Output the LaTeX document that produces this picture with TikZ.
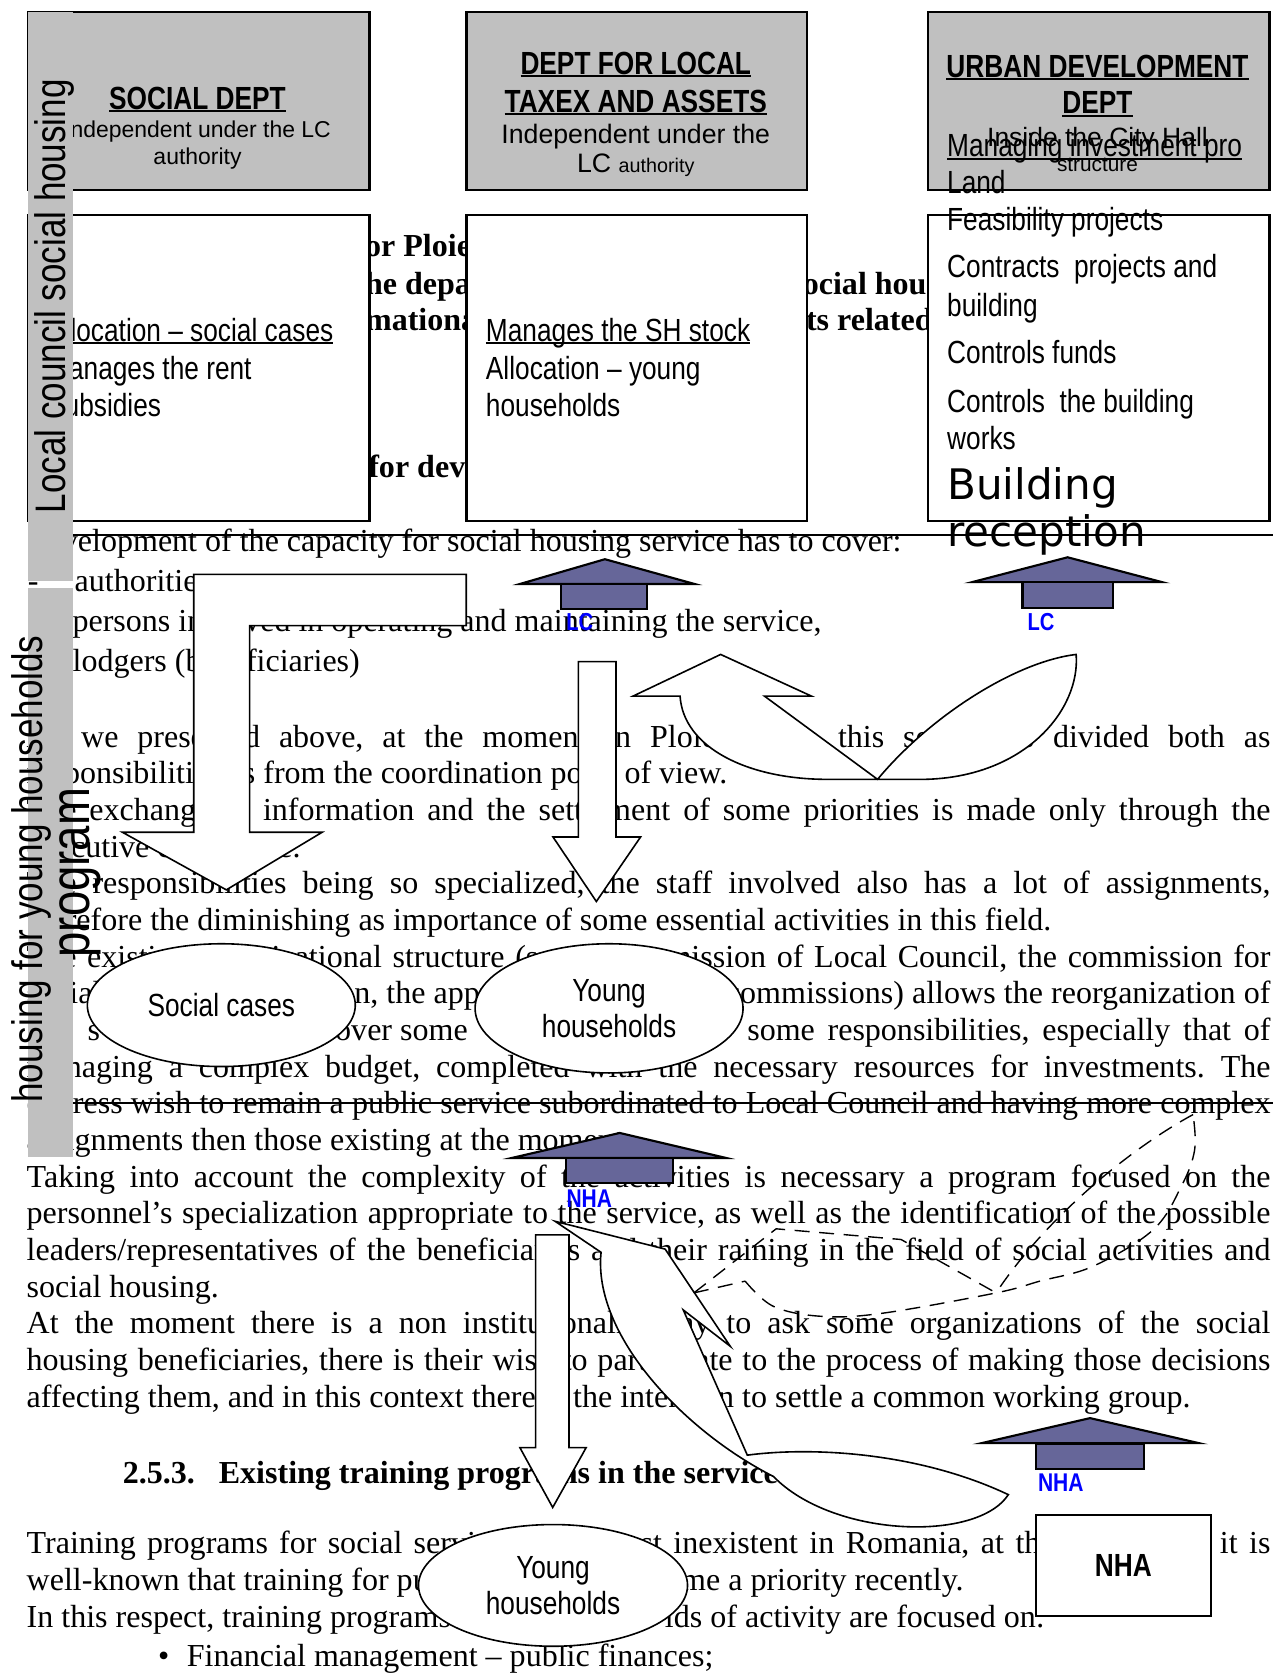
\documentclass[tikz,border=0pt]{standalone}
\usepackage{fontspec}
\setmainfont{Liberation Serif}
\newfontfamily\nar[FakeStretch=0.82]{Liberation Sans}
\newfontfamily\ars{Liberation Sans}
\newfontfamily\dvs{DejaVu Sans}
\usetikzlibrary{shapes.geometric}
\frenchspacing
\newcommand\fs[1]{\fontsize{#1}{#1}\selectfont}
\newcommand\wul[1]{\setbox0=\hbox{#1}\rlap{\rule[-2.6pt]{\wd0}{1.8pt}}\box0}
\definecolor{silver}{RGB}{192,192,192}
\definecolor{hatc}{RGB}{102,102,153}
\begin{document}
\begin{tikzpicture}[x=1pt,y=-1pt,
  txt/.style={anchor=base west,inner sep=0pt,outer sep=0pt,font=\fontsize{30}{34}\selectfont},
  txtb/.style={anchor=base west,inner sep=0pt,outer sep=0pt,font=\fontsize{30}{34}\selectfont\bfseries},
  gbox/.style={draw,line width=2.2pt,fill=silver,inner sep=0pt,anchor=north west},
  wbox/.style={draw,line width=2.2pt,fill=white,inner sep=0pt,anchor=north west},
  ttl/.style={anchor=base,inner sep=0pt,font=\nar\bfseries\fs{30}},
  lft/.style={anchor=base west,inner sep=0pt,font=\nar\fs{30}},
  rot/.style={rotate=90,anchor=base west,inner sep=0pt},
  arw/.style={draw,fill=white,line width=1.5pt,line join=miter},
  hat/.style={draw,fill=hatc,line width=2pt},
  lbl/.style={inner sep=0pt,text=blue,font=\nar\bfseries\fs{23}},
  ell/.style={ellipse,draw,fill=white,line width=1.5pt,inner sep=0pt,align=center,font=\nar\fontsize{30}{34}\selectfont},
  dsh/.style={dash pattern=on 14pt off 9pt,line width=1.3pt}]
\fill[white] (0,0) rectangle (1194,1568);
\useasboundingbox (0,0) rectangle (1194,1568);

% ---------- body text ----------
\node[txtb] (h1) at (342,240.6) {or Ploie};
\node[txtb] (h2) at (342,276) {he depa};
\node[txtb] (h3) at (342,310) {mationa};
\node[txtb] (h4) at (345,447.3) {for dev};
\node[txtb] (h5) at (752,276) {ocial hous};
\node[txtb] (h6) at (755,310) {ts related};

\node[txt] (t01) at (58,516.6) {velopment of the capacity for social housing service has to cover:};
\node[txt] (t02a) at (26,554) {-};
\node[txt] (t02) at (70,554) {authorities,};
\node[txt] (t03) at (68,591.5) {persons involved in operating and maintaining the service,};
\node[txt] (t04) at (68,629) {lodgers (beneficiaries)};
\node[txt] (t05) at (25,699.8) {\makebox[1165pt][s]{As we presented above, at the moment in Ploiesti city, this service is divided both as}};
\node[txt] (t06) at (25,734.2) {responsibilities as from the coordination point of view.};
\node[txt] (t07) at (25,768.5) {\makebox[1165pt][s]{The exchange of information and the settlement of some priorities is made only through the}};
\node[txt] (t08) at (25,802.9) {executive committee.};
\node[txt] (t09) at (25,837.2) {\makebox[1165pt][s]{The responsibilities being so specialized, the staff involved also has a lot of assignments,}};
\node[txt] (t10) at (25,871.6) {therefore the diminishing as importance of some essential activities in this field.};
\node[txt] (t11) at (25,905.9) {\makebox[1165pt][s]{The existing organizational structure (social commission of Local Council, the commission for}};
\node[txt] (t12a) at (25,940.3) {social};
\node[txt] (t12b) at (332,940.3) {n, the appropriate};
\node[txt] (t12c) at (680,940.3) {\makebox[510pt][s]{commissions) allows the reorganization of}};
\node[txt] (t13a) at (82,974.6) {s};
\node[txt] (t13b) at (314,974.6) {over some};
\node[txt] (t13c) at (700,974.6) {\makebox[490pt][s]{some responsibilities, especially that of}};
\node[txt] (t14) at (25,1009) {\makebox[1165pt][s]{managing a complex budget, completed with the necessary resources for investments. The}};
\node[txt] (t15) at (25,1043.3) {\makebox[1165pt][s]{express wish to remain a public service subordinated to Local Council and having more complex}};
\node[txt] (t16) at (25,1077.7) {assignments then those existing at the moment.};
\node[txt] (t17) at (25,1112) {\makebox[1165pt][s]{Taking into account the complexity of the activities is necessary a program focused on the}};
\node[txt] (t18) at (25,1146.4) {\makebox[1165pt][s]{personnel’s specialization appropriate to the service, as well as the identification of the possible}};
\node[txt] (t19) at (25,1180.7) {\makebox[1165pt][s]{leaders/representatives of the beneficiaries and their raining in the field of social activities and}};
\node[txt] (t20) at (25,1215) {social housing.};
\node[txt] (t21) at (25,1249.4) {\makebox[1165pt][s]{At the moment there is a non institutionally way to ask some organizations of the social}};
\node[txt] (t22) at (25,1283.8) {\makebox[1165pt][s]{housing beneficiaries, there is their wish to participate to the process of making those decisions}};
\node[txt] (t23) at (25,1318) {affecting them, and in this context there is the intention to settle a common working group.};
\node[txtb] (t24a) at (115,1390) {2.5.3.};
\node[txtb] (t24b) at (205,1390) {Existing training programs in the service};
\node[txt] (t25a) at (25,1455) {\spaceskip=10.5pt Training programs for social services};
\node[txt] (t25b) at (600,1455) {\makebox[590pt][s]{st inexistent in Romania, at the same time, it is}};
\node[txt] (t26a) at (25,1489.5) {well-known that training for public};
\node[txt] (t26b) at (638,1489.5) {me a priority recently.};
\node[txt] (t27a) at (25,1524) {In this respect, training programs};
\node[txt,anchor=base east] (t27b) at (978.6,1524) {lds of activity are focused on:};
\node[txt] (t28a) at (148,1561) {•};
\node[txt] (t28b) at (175,1561) {Financial management – public finances;};

% ---------- strike lines ----------
\coordinate (s1a) at (68.8,501); \coordinate (s1b) at (1192,501);
\coordinate (s2a) at (68.8,1033); \coordinate (s2b) at (1192,1033);
\draw[line width=1.5pt] (s1a) -- (s1b);
\draw[line width=1.5pt] (s2a) -- (s2b);

% ---------- boxes ----------
\node[gbox,minimum width=320pt,minimum height=167pt] (bA) at (25,10) {};
\node[gbox,minimum width=319pt,minimum height=167pt] (bB) at (436,10) {};
\node[gbox,minimum width=320pt,minimum height=167pt] (bC) at (868,10) {};
\node[wbox,minimum width=320pt,minimum height=287pt] (bD) at (25,200) {};
\node[wbox,minimum width=319pt,minimum height=287pt] (bE) at (436,200) {};
\node[wbox,minimum width=320pt,minimum height=287pt] (bF) at (868,200) {};

\node[ttl] (a1) at (185,102.7) {\wul{SOCIAL DEPT}};
\node[anchor=base,inner sep=0pt,font=\ars\fs{21.5}] (a2) at (185,129.2) {Independent under the LC};
\node[anchor=base,inner sep=0pt,font=\ars\fs{21.5}] (a3) at (185,154.4) {authority};

\node[ttl] (b1) at (595.5,69.4) {\wul{DEPT FOR LOCAL}};
\node[ttl] (b2) at (595.5,105) {\wul{TAXEX AND ASSETS}};
\node[anchor=base,inner sep=0pt,font=\ars\fs{25}] (b3) at (595.5,134) {Independent under the};
\node[anchor=base,inner sep=0pt,font=\ars\fs{25}] (b4) at (595.5,161.5) {LC {\fs{18.5}authority}};

\node[ttl] (c1) at (1028,72.7) {\wul{URBAN DEVELOPMENT}};
\node[ttl] (c2) at (1028,106.6) {\wul{DEPT}};
\node[anchor=base,inner sep=0pt,font=\ars\fs{24.8}] (c3) at (1028,137.3) {Inside the City Hall};
\node[anchor=base,inner sep=0pt,font=\ars\fs{19.5}] (c4) at (1028,160.8) {structure};
\node[lft] (c5) at (887,147) {\wul{Managing investment pro}};
\node[lft] (c6) at (887,181) {Land};
\node[lft] (f1) at (887,215.5) {Feasibility projects};
\node[lft] (f2) at (887,260) {Contracts\ \ projects and};
\node[lft] (f3) at (887,296) {building};
\node[lft] (f4) at (887,340.7) {Controls funds};
\node[lft] (f5) at (887,386) {Controls\ \ the building};
\node[lft] (f6) at (887,421.4) {works};
\node[anchor=base west,inner sep=0pt,font=\dvs\fs{39.4}] (f7) at (887,468.3) {Building};
\node[anchor=base west,inner sep=0pt,font=\dvs\fs{39.4}] (f8) at (887,512) {reception};

\node[lft] (d1) at (44,320) {\wul{Allocation – social cases}};
\node[lft] (d2) at (44,355) {Manages the rent};
\node[lft] (d3) at (44,390) {Subsidies};

\node[lft] (e1t) at (455,320) {\wul{Manages the SH stock}};
\node[lft] (e2t) at (455,355) {Allocation – young};
\node[lft] (e3t) at (455,390) {households};

% ---------- side bars ----------
\fill[silver] (26.2,11.2) rectangle (68,544);
\fill[silver] (26.2,551) rectangle (68,1083.7);

% ---------- straight arrows ----------
\draw[arw] (181.5,538) -- (436.7,538) -- (436.7,586) -- (233.8,586) -- (233.8,779.5) -- (301.8,779.5) -- (212,833.5) -- (114.6,779.5) -- (181.5,779.5) -- cycle;
\draw[arw] (541.8,619.7) -- (577,619.7) -- (577,784) -- (600,784) -- (558.6,844.4) -- (518,784) -- (541.8,784) -- cycle;
\draw[arw] (501.7,1156.6) -- (533,1156.6) -- (533,1356) -- (549,1356) -- (517.7,1412) -- (487,1356) -- (501.7,1356) -- cycle;

% ---------- curved arrows ----------
\draw[arw] (593,652) -- (675,613) -- (760,652) -- (716,652) -- (822,730)
  .. controls (870,672) and (950,620) .. (1008,613)
  .. controls (1012,665) and (960,728) .. (866,730) -- (775,730)
  .. controls (700,730) and (640,700) .. (637,652) -- cycle;
\draw[arw] (520,1144) -- (623,1170) -- (684,1261) -- (640,1227) -- (700,1363)
  .. controls (760,1355) and (860,1360) .. (944.5,1400)
  .. controls (915,1445) and (780,1440) .. (724.5,1383)
  .. controls (640,1340) and (555,1250) .. (563,1173) -- cycle;

% ---------- dashed curved arrow ----------
\draw[dsh] (650,1211) -- (698,1200);
\draw[dsh] plot[smooth,tension=0.6] coordinates {(698,1200) (724.6,1223.7) (770,1233) (827,1230) (933,1211) (974,1200) (1024,1186) (1080,1152) (1106.6,1111) (1119,1077) (1117.5,1044)};
\draw[dsh] (650,1211) -- (727,1151) -- (844,1161) -- (933,1211);
\draw[dsh] (1117.5,1044) .. controls (1060,1075) and (980,1140) .. (933,1211);

% ---------- hats ----------
\filldraw[hat] (487,547) -- (566.6,523.8) -- (650.6,547) -- cycle;
\filldraw[hat] (525.4,547) rectangle (606,570.7);
\node[lbl] (lc1) at (543,583) {LC};
\filldraw[hat] (910.4,545.3) -- (1000,522) -- (1088.6,545.3) -- cycle;
\filldraw[hat] (957.8,545.3) rectangle (1042.4,569.7);
\node[lbl] (lc2) at (975,582.2) {LC};
\filldraw[hat] (479.5,1084.6) -- (580.5,1061.2) -- (680,1084.6) -- cycle;
\filldraw[hat] (529.8,1085) rectangle (630,1108);
\node[lbl,font=\nar\bfseries\fs{24}] (nh1) at (552,1123) {NHA};
\filldraw[hat] (919.6,1351.7) -- (1021,1328.3) -- (1122.8,1351.7) -- cycle;
\filldraw[hat] (970.2,1352.4) rectangle (1071.6,1375.7);
\node[lbl,font=\nar\bfseries\fs{24}] (nh2) at (993.6,1389) {NHA};
\node[draw,fill=white,line width=1.8pt,minimum width=164pt,minimum height=94pt,inner sep=0pt,font=\nar\bfseries\fs{30}] (nha) at (1052.2,1466.4) {NHA};

% ---------- ellipses ----------
\node[ell,minimum width=251pt,minimum height=115pt] (el1) at (207.3,941.5) {Social cases};
\node[ell,minimum width=251pt,minimum height=121pt] (el2) at (570.5,944.5) {Young\\households};
\node[ell,minimum width=252pt,minimum height=114pt] (el3) at (518,1485) {Young\\households};

% ---------- rotated labels ----------
\node[rot,font=\nar\fs{40}] (r1) at (61,481) {Local council social housing};
\node[rot,font=\nar\fs{40}] (r2) at (40,1033) {housing for young households};
\node[rot,font=\nar\fs{52}] (r3) at (84,897) {program};
\end{tikzpicture}
\end{document}
